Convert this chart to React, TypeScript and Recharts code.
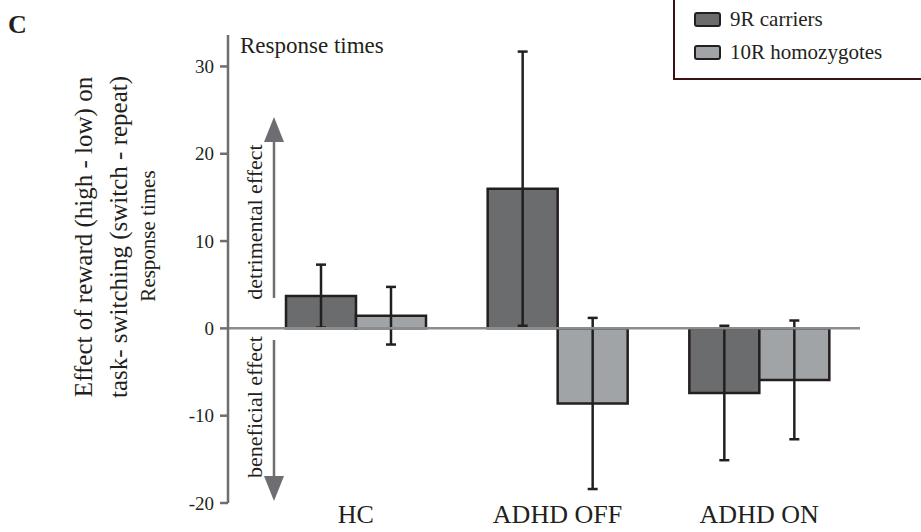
import React from 'react';
import {
  BarChart,
  Bar,
  XAxis,
  YAxis,
  ErrorBar,
  ReferenceLine,
  Legend
} from 'recharts';

// values (effect of reward on switch cost, ms)
const groups = ['HC', 'ADHD OFF', 'ADHD ON'];
const carriers9R = [3.7, 16.0, -7.4];
const carriers9RErr = [3.6, 15.7, 7.7];
const homozygotes10R = [1.45, -8.6, -5.9];
const homozygotes10RErr = [3.3, 9.8, 6.8];
const yTicks = [-20, -10, 0, 10, 20, 30];
const seriesOrder = ['9R carriers', '10R homozygotes'];

const data = groups.map((name, i) => ({
  name,
  r9: carriers9R[i],
  r9Err: carriers9RErr[i],
  r10: homozygotes10R[i],
  r10Err: homozygotes10RErr[i]
}));

const SERIF = '"Liberation Serif", "Times New Roman", Tinos, "Noto Serif", "DejaVu Serif", FreeSerif, serif';
const INK = '#231f20';
const AXIS_GREY = '#6d6e71';
const DARK_BAR = '#6a6c6e';
const LIGHT_BAR = '#a1a4a7';

const GroupTick = (props: any) => {
  const { x, y, payload } = props;
  return (
    <text x={x} y={y} dy={20} textAnchor="middle" fill={INK} fontSize={26} fontFamily={SERIF}>
      {payload.value}
    </text>
  );
};

const GenotypeLegend = (props: any) => {
  const items = [...(props.payload || [])].sort(
    (a: any, b: any) => seriesOrder.indexOf(a.value) - seriesOrder.indexOf(b.value)
  );
  return (
    <div
      style={{
        border: '2.5px solid #3b1214',
        background: '#fff',
        width: 300,
        paddingTop: 33,
        paddingBottom: 9,
        fontFamily: SERIF,
        fontSize: 21,
        color: INK
      }}
    >
      {items.map((entry: any) => (
        <div key={entry.value} style={{ height: 33, display: 'flex', alignItems: 'center' }}>
          <span
            style={{
              display: 'inline-block',
              marginLeft: 19,
              width: 23,
              height: 11,
              background: entry.color,
              border: `2.5px solid ${INK}`,
              borderRadius: 3
            }}
          />
          <span style={{ marginLeft: 9 }}>{entry.value}</span>
        </div>
      ))}
    </div>
  );
};

export default function App() {
  return (
    <div
      style={{
        position: 'absolute',
        left: 0,
        top: 0,
        width: 921,
        height: 532,
        overflow: 'hidden',
        background: '#fff'
      }}
    >
      <BarChart
        width={921}
        height={532}
        data={data}
        margin={{ top: 35, right: 61, bottom: 0, left: 168 }}
        barSize={70}
        barGap={0}
      >
        <XAxis
          dataKey="name"
          axisLine={false}
          tickLine={false}
          tickSize={0}
          tickMargin={0}
          height={29}
          padding={{ left: 27, right: 0 }}
          tick={<GroupTick />}
          interval={0}
        />
        <YAxis
          width={60}
          domain={[-20, 33.6]}
          ticks={yTicks}
          allowDataOverflow
          axisLine={{ stroke: AXIS_GREY, strokeWidth: 2.5 }}
          tickLine={{ stroke: AXIS_GREY, strokeWidth: 2.5 }}
          tickSize={8}
          tickMargin={6}
          tick={{ fill: INK, fontSize: 19, fontFamily: SERIF }}
        />
        <Legend
          layout="horizontal"
          verticalAlign="middle"
          align="center"
          wrapperStyle={{ position: 'absolute', left: 673, top: -32, width: 300 }}
          content={<GenotypeLegend />}
        />
        <Bar
          dataKey="r9"
          name="9R carriers"
          fill={DARK_BAR}
          stroke={INK}
          strokeWidth={2.5}
          isAnimationActive={false}
        >
          <ErrorBar dataKey="r9Err" width={5} stroke={INK} strokeWidth={2.5} direction="y" />
        </Bar>
        <Bar
          dataKey="r10"
          name="10R homozygotes"
          fill={LIGHT_BAR}
          stroke={INK}
          strokeWidth={2.5}
          isAnimationActive={false}
        >
          <ErrorBar dataKey="r10Err" width={5} stroke={INK} strokeWidth={2.5} direction="y" />
        </Bar>
        <ReferenceLine y={0} stroke="#8a8c8e" strokeWidth={2.5} />
      </BarChart>

      {/* labels and arrows around the axis */}
      <svg
        width={921}
        height={532}
        style={{ position: 'absolute', left: 0, top: 0, pointerEvents: 'none' }}
      >
        <text x={8} y={33} fontFamily={SERIF} fontSize={26} fontWeight="bold" fill={INK}>C</text>
        <text x={240} y={53} fontFamily={SERIF} fontSize={23} fill={INK}>Response times</text>

        <g fontFamily={SERIF} fill={INK} textAnchor="middle">
          <text x={92} y={237} fontSize={25} transform="rotate(-90 92 237)">
            Effect of reward (high - low) on
          </text>
          <text x={127} y={237} fontSize={25} transform="rotate(-90 127 237)">
            task- switching (switch - repeat)
          </text>
          <text x={155} y={236} fontSize={21} transform="rotate(-90 155 236)">
            Response times
          </text>
          <text x={262} y={222} fontSize={22} transform="rotate(-90 262 222)">
            detrimental effect
          </text>
          <text x={262} y={407} fontSize={22} transform="rotate(-90 262 407)">
            beneficial effect
          </text>
        </g>

        <line x1={274} y1={298} x2={274} y2={140} stroke={AXIS_GREY} strokeWidth={2.5} />
        <path d="M264,142 L274,117 L284,142 z" fill={AXIS_GREY} />
        <line x1={274} y1={340} x2={274} y2={478} stroke={AXIS_GREY} strokeWidth={2.5} />
        <path d="M264,476 L274,501 L284,476 z" fill={AXIS_GREY} />
      </svg>
    </div>
  );
}
